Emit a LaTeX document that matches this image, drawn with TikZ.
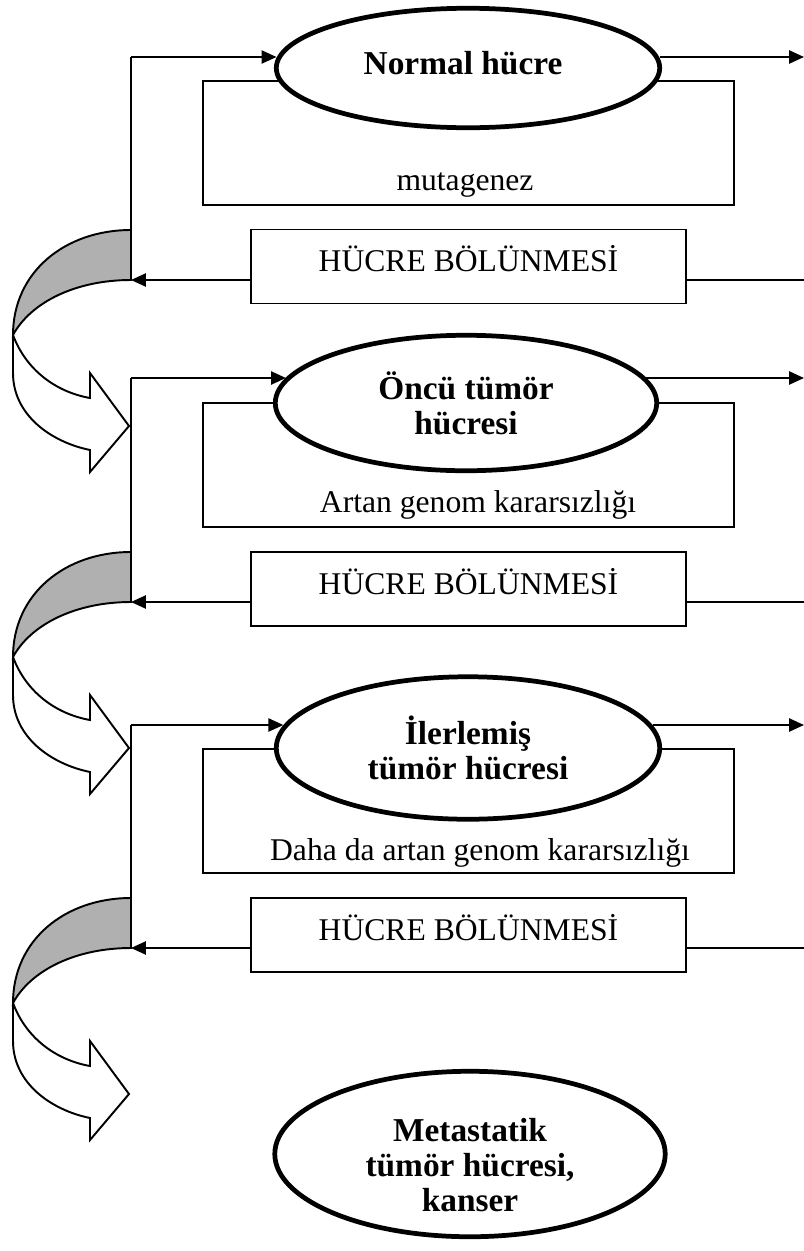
\documentclass[tikz,border=0pt]{standalone}
\usepackage{fontspec}
\setmainfont{Liberation Serif}
\usepackage{xcolor}
\usepackage{tikz}
\usetikzlibrary{arrows.meta,shapes.geometric}
\definecolor{ink}{HTML}{000000}
\definecolor{paper}{HTML}{FFFFFF}
\definecolor{stipple}{HTML}{B0B0B0}
\tikzset{
  plain/.style={draw=ink, line width=1.1pt},
  feed/.style={plain, -{Triangle[length=8.5pt,width=7.5pt]}},
  cell/.style={
    ellipse,
    draw=ink,
    line width=2.7pt,
    fill=paper,
    inner sep=0pt,
    align=center,
    text=ink,
    font=\bfseries\fontsize{19}{20}\selectfont
  },
  backbox/.style={
    rectangle,
    draw=ink,
    line width=1.1pt,
    minimum width=10.62cm,
    minimum height=2.48cm
  },
  divbox/.style={
    rectangle,
    draw=ink,
    line width=1.1pt,
    fill=paper,
    minimum width=8.7cm,
    minimum height=1.48cm,
    text depth=0.32cm,
    text=ink,
    font=\fontsize{18}{20}\selectfont
  },
  note/.style={font=\fontsize{18}{20}\selectfont, text=ink, inner sep=0pt},
  turn/.pic={
    \filldraw[plain, fill=stipple] (0,-50) .. controls (-66,-50) and (-118,-8) .. (-118,55)
      .. controls (-100,22) and (-55,0) .. (0,0) -- cycle;
    \filldraw[plain, fill=paper] (-118,55) -- (-118,93) .. controls (-118,135) and (-80,162) .. (-41,170)
      -- (-41,192) -- (-2,146) -- (-41,93) -- (-41,118) .. controls (-75,112) and (-105,90) .. (-118,55) -- cycle;
  }
}

\begin{document}
\begin{tikzpicture}[x=0.02cm, y=-0.02cm]
  \useasboundingbox (0,0) rectangle (804,1251);

  % turning arrows on the left
  \pic at (131,280) {turn};
  \pic at (131,602) {turn};
  \pic at (131,948) {turn};

  % normal cell
  \node[backbox] (L1) at (468.5,143) {};
  \node[note] (t1) at (465,185) {mutagenez};
  \node[cell, minimum width=7.67cm, minimum height=2.39cm] (E1) at (468,68) {};
  \node[cell, draw=none, fill=none] (n1) at (463,63) {Normal hücre};
  \node[divbox] (D1) at (468.5,266.5) {HÜCRE BÖLÜNMESİ};
  \coordinate (a1) at (131,57);
  \coordinate (b1) at (131,280);
  \coordinate (o1) at (804,57);
  \coordinate (r1) at (804,280);
  \draw[plain] (a1) -- (b1);
  \draw[feed] (a1) -- (a1 -| E1.177);
  \draw[feed] (o1 -| E1.3) -- (o1);
  \draw[plain] (r1) -- (r1 -| D1.east);
  \draw[feed] (r1 -| D1.west) -- (b1);

  % precursor cell
  \node[backbox] (L2) at (468.5,465) {};
  \node[note] (t2) at (478,505) {Artan genom kararsızlığı};
  \node[cell, minimum width=7.63cm, minimum height=2.71cm] (E2) at (466,403) {Öncü tümör\\hücresi};
  \node[divbox] (D2) at (468.5,589) {HÜCRE BÖLÜNMESİ};
  \coordinate (a2) at (131,378);
  \coordinate (b2) at (131,602);
  \coordinate (o2) at (804,378);
  \coordinate (r2) at (804,602);
  \draw[plain] (a2) -- (b2);
  \draw[feed] (a2) -- (a2 -| E2.172);
  \draw[feed] (o2 -| E2.8) -- (o2);
  \draw[plain] (r2) -- (r2 -| D2.east);
  \draw[feed] (r2 -| D2.west) -- (b2);

  % advanced cell
  \node[backbox] (L3) at (468.5,811) {};
  \node[note] (t3) at (480,853) {Daha da artan genom kararsızlığı};
  \node[cell, minimum width=7.67cm, minimum height=2.85cm] (E3) at (468,748) {İlerlemiş\\tümör hücresi};
  \node[divbox] (D3) at (468.5,935) {HÜCRE BÖLÜNMESİ};
  \coordinate (a3) at (131,725);
  \coordinate (b3) at (131,948);
  \coordinate (o3) at (804,725);
  \coordinate (r3) at (804,948);
  \draw[plain] (a3) -- (b3);
  \draw[feed] (a3) -- (a3 -| E3.173);
  \draw[feed] (o3 -| E3.7) -- (o3);
  \draw[plain] (r3) -- (r3 -| D3.east);
  \draw[feed] (r3 -| D3.west) -- (b3);

  % cancer
  \node[cell, minimum width=7.81cm, minimum height=3.31cm] (E4) at (470,1154) {};
  \node[cell, draw=none, fill=none] (t4) at (470,1165) {Metastatik\\tümör hücresi,\\kanser};
\end{tikzpicture}
\end{document}
